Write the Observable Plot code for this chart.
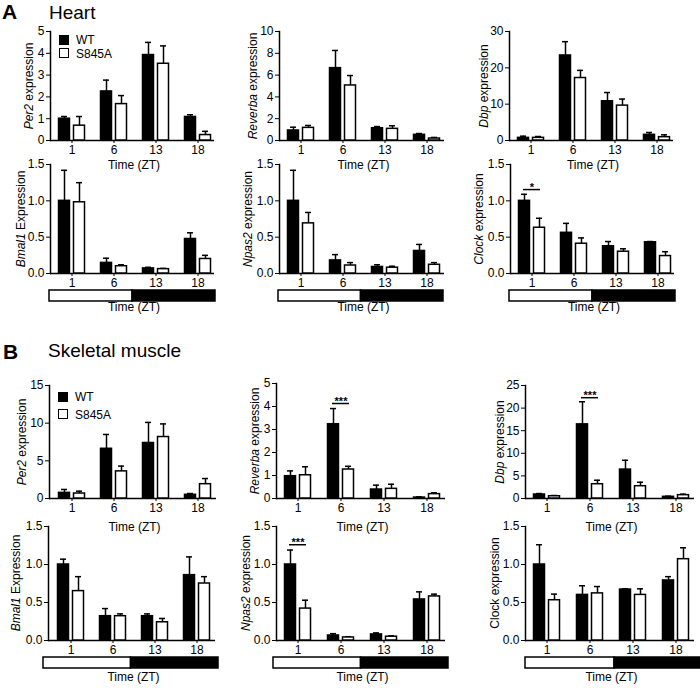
<!DOCTYPE html>
<html>
<head>
<meta charset="utf-8">
<script src="https://cdn.jsdelivr.net/npm/d3@7"></script>
<script src="https://cdn.jsdelivr.net/npm/@observablehq/plot@0.6"></script>
<style>
  html, body { margin: 0; padding: 0; background: #fff; }
  #fig { position: relative; width: 700px; height: 688px; overflow: hidden; font-family: "Liberation Sans", Arial, sans-serif; color: #000; }
  .txt { position: absolute; white-space: nowrap; line-height: 1; }
  .ylab { position: absolute; white-space: nowrap; font-size: 12px; line-height: 1; transform: translate(-50%, -50%) rotate(-90deg); }
  .xlab { position: absolute; white-space: nowrap; font-size: 12px; line-height: 1; transform: translate(-50%, -50%); }
  .sw { position: absolute; width: 8px; height: 8px; border: 1px solid #000; }
</style>
</head>
<body>
<div id="fig"></div>
<script>
// ---------- data ----------
const zt = [1, 6, 13, 18];
const seriesNames = ["WT", "S845A"];
const phaseName = ["light", "dark"];
const phaseStart = [0, 12];
const phaseEnd = [12, 24];

// Heart
const heartPer2WT = [1.0, 2.25, 3.92, 1.08];
const heartPer2WTsem = [0.1, 0.52, 0.58, 0.1];
const heartPer2S = [0.68, 1.67, 3.52, 0.25];
const heartPer2Ssem = [0.42, 0.39, 0.82, 0.17];

const heartRevWT = [0.92, 6.64, 1.13, 0.52];
const heartRevWTsem = [0.3, 1.62, 0.15, 0.12];
const heartRevS = [1.16, 5.05, 1.07, 0.18];
const heartRevSsem = [0.22, 0.91, 0.28, 0.1];

const heartDbpWT = [0.73, 23.4, 10.8, 1.56];
const heartDbpWTsem = [0.46, 3.8, 2.4, 0.64];
const heartDbpS = [0.73, 17.2, 9.6, 0.92];
const heartDbpSsem = [0.37, 2.1, 1.8, 0.64];

const heartBmalWT = [1.0, 0.146, 0.07, 0.475];
const heartBmalWTsem = [0.42, 0.064, 0.015, 0.085];
const heartBmalS = [0.98, 0.1, 0.06, 0.2];
const heartBmalSsem = [0.27, 0.02, 0.01, 0.05];

const heartNpasWT = [1.0, 0.18, 0.09, 0.31];
const heartNpasWTsem = [0.42, 0.08, 0.03, 0.09];
const heartNpasS = [0.69, 0.11, 0.08, 0.12];
const heartNpasSsem = [0.15, 0.04, 0.02, 0.03];

const heartClockWT = [1.0, 0.56, 0.375, 0.43];
const heartClockWTsem = [0.09, 0.13, 0.065, 0.01];
const heartClockS = [0.63, 0.41, 0.30, 0.24];
const heartClockSsem = [0.13, 0.08, 0.04, 0.06];

// Skeletal muscle
const musPer2WT = [0.75, 6.6, 7.37, 0.49];
const musPer2WTsem = [0.45, 1.9, 2.73, 0.17];
const musPer2S = [0.66, 3.6, 8.16, 1.9];
const musPer2Ssem = [0.31, 0.7, 1.74, 0.75];

const musRevWT = [0.97, 3.23, 0.39, 0.04];
const musRevWTsem = [0.23, 0.68, 0.19, 0.03];
const musRevS = [1.01, 1.26, 0.42, 0.19];
const musRevSsem = [0.37, 0.14, 0.2, 0.06];

const musDbpWT = [0.88, 16.4, 6.4, 0.37];
const musDbpWTsem = [0.22, 5.0, 2.06, 0.13];
const musDbpS = [0.5, 3.16, 2.72, 0.74];
const musDbpSsem = [0.16, 0.88, 0.88, 0.22];

const musBmalWT = [1.0, 0.32, 0.32, 0.86];
const musBmalWTsem = [0.07, 0.1, 0.03, 0.24];
const musBmalS = [0.65, 0.32, 0.24, 0.75];
const musBmalSsem = [0.19, 0.03, 0.05, 0.09];

const musNpasWT = [1.0, 0.066, 0.08, 0.54];
const musNpasWTsem = [0.19, 0.024, 0.02, 0.1];
const musNpasS = [0.42, 0.04, 0.05, 0.58];
const musNpasSsem = [0.11, 0.01, 0.01, 0.03];

const musClockWT = [1.0, 0.6, 0.67, 0.79];
const musClockWTsem = [0.26, 0.12, 0.01, 0.05];
const musClockS = [0.53, 0.62, 0.6, 1.07];
const musClockSsem = [0.08, 0.09, 0.08, 0.15];

// significance marks
const sigHeartClockZT = [1], sigHeartClockY = [1.155], sigHeartClockLabel = ["*"];
const sigMusRevZT = [6], sigMusRevY = [4.13], sigMusRevLabel = ["***"];
const sigMusDbpZT = [6], sigMusDbpY = [22.3], sigMusDbpLabel = ["***"];
const sigMusNpasZT = [1], sigMusNpasY = [1.26], sigMusNpasLabel = ["***"];

// tick labels
const ticks0to5 = [0, 1, 2, 3, 4, 5];
const ticks0to10 = [0, 2, 4, 6, 8, 10];
const ticks0to30 = [0, 10, 20, 30];
const ticks0to15 = [0, 5, 10, 15];
const ticks0to25 = [0, 5, 10, 15, 20, 25];
const ticksRel = [0, 0.5, 1.0, 1.5];

// ---------- drawing ----------
const fig = document.getElementById("fig");
const FONT = '"Liberation Sans", Arial, sans-serif';

function addText(html, cls, x, y, extra) {
  const d = document.createElement("div");
  d.className = cls;
  d.innerHTML = html;
  d.style.left = x + "px";
  d.style.top = y + "px";
  if (extra) Object.assign(d.style, extra);
  fig.appendChild(d);
  return d;
}

function rows(wt, wtSem, s, sSem) {
  const a = zt.map((z, i) => ({zt: z, series: seriesNames[0], mean: wt[i], hi: wt[i] + wtSem[i]}));
  const b = zt.map((z, i) => ({zt: z, series: seriesNames[1], mean: s[i], hi: s[i] + sSem[i]}));
  return [a, b];
}

function panel(p) {
  const mL = 40, mR = 10, mT = 10, mB = 22;
  const [wt, s] = rows(p.wt, p.wtSem, p.s, p.sSem);
  const off = 7.5;
  const marks = [
    Plot.axisY({ticks: p.yticks, tickFormat: d3.format(p.fmt), tickSize: 4, tickPadding: 2, label: null, fontSize: 12}),
    Plot.axisX({tickSize: 3, tickPadding: 2, label: null, fontSize: 12}),
    Plot.frame({anchor: "left", strokeWidth: 1.5}),
    Plot.ruleY([0], {strokeWidth: 1.5, insetRight: 4}),
    Plot.ruleX(wt, {x: "zt", y1: "mean", y2: "hi", dx: -off, strokeWidth: 1.5}),
    Plot.tickY(wt, {x: "zt", y: "hi", dx: -off, insetLeft: 2.5, insetRight: 2.5, strokeWidth: 1.5}),
    Plot.ruleX(s, {x: "zt", y1: "mean", y2: "hi", dx: off, strokeWidth: 1.5}),
    Plot.tickY(s, {x: "zt", y: "hi", dx: off, insetLeft: 2.5, insetRight: 2.5, strokeWidth: 1.5}),
    Plot.barY(wt, {x: "zt", y: "mean", dx: -off, fill: "black", stroke: "black", strokeWidth: 1.5}),
    Plot.barY(s, {x: "zt", y: "mean", dx: off, fill: "white", stroke: "black", strokeWidth: 1.5})
  ];
  if (p.sig) {
    const sd = p.sig.zt.map((z, i) => ({zt: z, y: p.sig.y[i], label: p.sig.label[i]}));
    marks.push(Plot.tickY(sd, {x: "zt", y: "y", insetLeft: -3, insetRight: -3, strokeWidth: 1.5}));
    marks.push(Plot.text(sd, {x: "zt", y: "y", text: "label", dy: -2, fontSize: 11, fontWeight: "bold"}));
  }
  const plot = Plot.plot({
    width: mL + p.W + mR,
    height: mT + (p.yZero - p.yTop) + mB,
    marginLeft: mL, marginRight: mR, marginTop: mT, marginBottom: mB,
    x: {type: "band", domain: zt, paddingInner: 0.74, paddingOuter: 0.37, axis: null},
    y: {domain: [0, p.ymax], axis: null},
    style: {fontFamily: FONT, fontSize: "12px", overflow: "visible", background: "transparent"},
    marks
  });
  plot.style.position = "absolute";
  plot.style.left = (p.x0 - mL) + "px";
  plot.style.top = (p.yTop - mT) + "px";
  fig.appendChild(plot);

  addText(p.ylabel, "ylab", p.ylx, (p.yTop + p.yZero) / 2);

  if (p.lightBar) {
    const lb = p.lightBar;
    const phases = phaseName.map((n, i) => ({phase: n, start: phaseStart[i], end: phaseEnd[i]}));
    const bar = Plot.plot({
      width: lb.w + 4, height: lb.h + 4,
      marginLeft: 2, marginRight: 2, marginTop: 2, marginBottom: 2,
      x: {domain: [0, 24], axis: null},
      color: {domain: phaseName, range: ["white", "black"]},
      style: {overflow: "visible", background: "transparent"},
      marks: [Plot.rect(phases, {x1: "start", x2: "end", fill: "phase", stroke: "black", strokeWidth: 1.5})]
    });
    bar.style.position = "absolute";
    bar.style.left = (lb.x - 2) + "px";
    bar.style.top = (lb.y - 2) + "px";
    fig.appendChild(bar);
  }
  addText("Time (ZT)", "xlab", p.x0 + p.W / 2, p.xly);
}

const panels = [
  // Heart row 1
  {x0: 50, W: 168, yTop: 31, yZero: 140, ymax: 5, yticks: ticks0to5, fmt: "d",
   wt: heartPer2WT, wtSem: heartPer2WTsem, s: heartPer2S, sSem: heartPer2Ssem,
   ylabel: "<i>Per2</i> expression", ylx: 29, xly: 165},
  {x0: 279, W: 169, yTop: 31, yZero: 140, ymax: 10, yticks: ticks0to10, fmt: "d",
   wt: heartRevWT, wtSem: heartRevWTsem, s: heartRevS, sSem: heartRevSsem,
   ylabel: "<i>Reverba</i> expression", ylx: 253, xly: 165},
  {x0: 509, W: 168, yTop: 31, yZero: 140, ymax: 30, yticks: ticks0to30, fmt: "d",
   wt: heartDbpWT, wtSem: heartDbpWTsem, s: heartDbpS, sSem: heartDbpSsem,
   ylabel: "<i>Dbp</i> expression", ylx: 484, xly: 165},
  // Heart row 2
  {x0: 50, W: 168, yTop: 164, yZero: 273, ymax: 1.5, yticks: ticksRel, fmt: ".1f",
   wt: heartBmalWT, wtSem: heartBmalWTsem, s: heartBmalS, sSem: heartBmalSsem,
   ylabel: "<i>Bmal1</i> Expression", ylx: 21, xly: 307, lightBar: {x: 49, y: 290, w: 166, h: 11}},
  {x0: 279, W: 169, yTop: 164, yZero: 273, ymax: 1.5, yticks: ticksRel, fmt: ".1f",
   wt: heartNpasWT, wtSem: heartNpasWTsem, s: heartNpasS, sSem: heartNpasSsem,
   ylabel: "<i>Npas2</i> expression", ylx: 248, xly: 307, lightBar: {x: 278, y: 290, w: 165, h: 11}},
  {x0: 510, W: 168, yTop: 164, yZero: 273, ymax: 1.5, yticks: ticksRel, fmt: ".1f",
   wt: heartClockWT, wtSem: heartClockWTsem, s: heartClockS, sSem: heartClockSsem,
   ylabel: "<i>Clock</i> expression", ylx: 479, xly: 307, lightBar: {x: 509, y: 290, w: 166, h: 11},
   sig: {zt: sigHeartClockZT, y: sigHeartClockY, label: sigHeartClockLabel}},
  // Muscle row 3
  {x0: 49, W: 171, yTop: 385, yZero: 498, ymax: 15, yticks: ticks0to15, fmt: "d",
   wt: musPer2WT, wtSem: musPer2WTsem, s: musPer2S, sSem: musPer2Ssem,
   ylabel: "<i>Per2</i> expression", ylx: 22, xly: 527},
  {x0: 276, W: 173, yTop: 383, yZero: 498, ymax: 5, yticks: ticks0to5, fmt: "d",
   wt: musRevWT, wtSem: musRevWTsem, s: musRevS, sSem: musRevSsem,
   ylabel: "<i>Reverba</i> expression", ylx: 255, xly: 527,
   sig: {zt: sigMusRevZT, y: sigMusRevY, label: sigMusRevLabel}},
  {x0: 525, W: 173, yTop: 385, yZero: 498, ymax: 25, yticks: ticks0to25, fmt: "d",
   wt: musDbpWT, wtSem: musDbpWTsem, s: musDbpS, sSem: musDbpSsem,
   ylabel: "<i>Dbp</i> expression", ylx: 500, xly: 527,
   sig: {zt: sigMusDbpZT, y: sigMusDbpY, label: sigMusDbpLabel}},
  // Muscle row 4
  {x0: 48, W: 171, yTop: 526, yZero: 640, ymax: 1.5, yticks: ticksRel, fmt: ".1f",
   wt: musBmalWT, wtSem: musBmalWTsem, s: musBmalS, sSem: musBmalSsem,
   ylabel: "<i>Bmal1</i> Expression", ylx: 16, xly: 677, lightBar: {x: 43, y: 657, w: 175, h: 11}},
  {x0: 276, W: 173, yTop: 526, yZero: 640, ymax: 1.5, yticks: ticksRel, fmt: ".1f",
   wt: musNpasWT, wtSem: musNpasWTsem, s: musNpasS, sSem: musNpasSsem,
   ylabel: "<i>Npas2</i> expression", ylx: 246, xly: 677, lightBar: {x: 273, y: 657, w: 175, h: 11},
   sig: {zt: sigMusNpasZT, y: sigMusNpasY, label: sigMusNpasLabel}},
  {x0: 525, W: 173, yTop: 526, yZero: 640, ymax: 1.5, yticks: ticksRel, fmt: ".1f",
   wt: musClockWT, wtSem: musClockWTsem, s: musClockS, sSem: musClockSsem,
   ylabel: "Clock expression", ylx: 495, xly: 677, lightBar: {x: 525, y: 657, w: 178, h: 11}}
];

panels.forEach(panel);

// Titles
addText("A", "txt", 2, 1, {fontSize: "21px", fontWeight: "bold"});
addText("Heart", "txt", 49, 3, {fontSize: "19px"});
addText("B", "txt", 3, 341, {fontSize: "21px", fontWeight: "bold"});
addText("Skeletal muscle", "txt", 48, 341, {fontSize: "19px"});

// Legends
function legend(x, y1, y2) {
  const a = document.createElement("div"); a.className = "sw";
  Object.assign(a.style, {left: x + "px", top: y1 + "px", background: "#000"});
  fig.appendChild(a);
  const b = document.createElement("div"); b.className = "sw";
  Object.assign(b.style, {left: x + "px", top: y2 + "px", background: "#fff"});
  fig.appendChild(b);
  addText(seriesNames[0], "txt", x + 17, y1 - 1, {fontSize: "12px"});
  addText(seriesNames[1], "txt", x + 17, y2 - 0.5, {fontSize: "12px"});
}
legend(59, 35, 48);
legend(58, 392, 409);
</script>
</body>
</html>
